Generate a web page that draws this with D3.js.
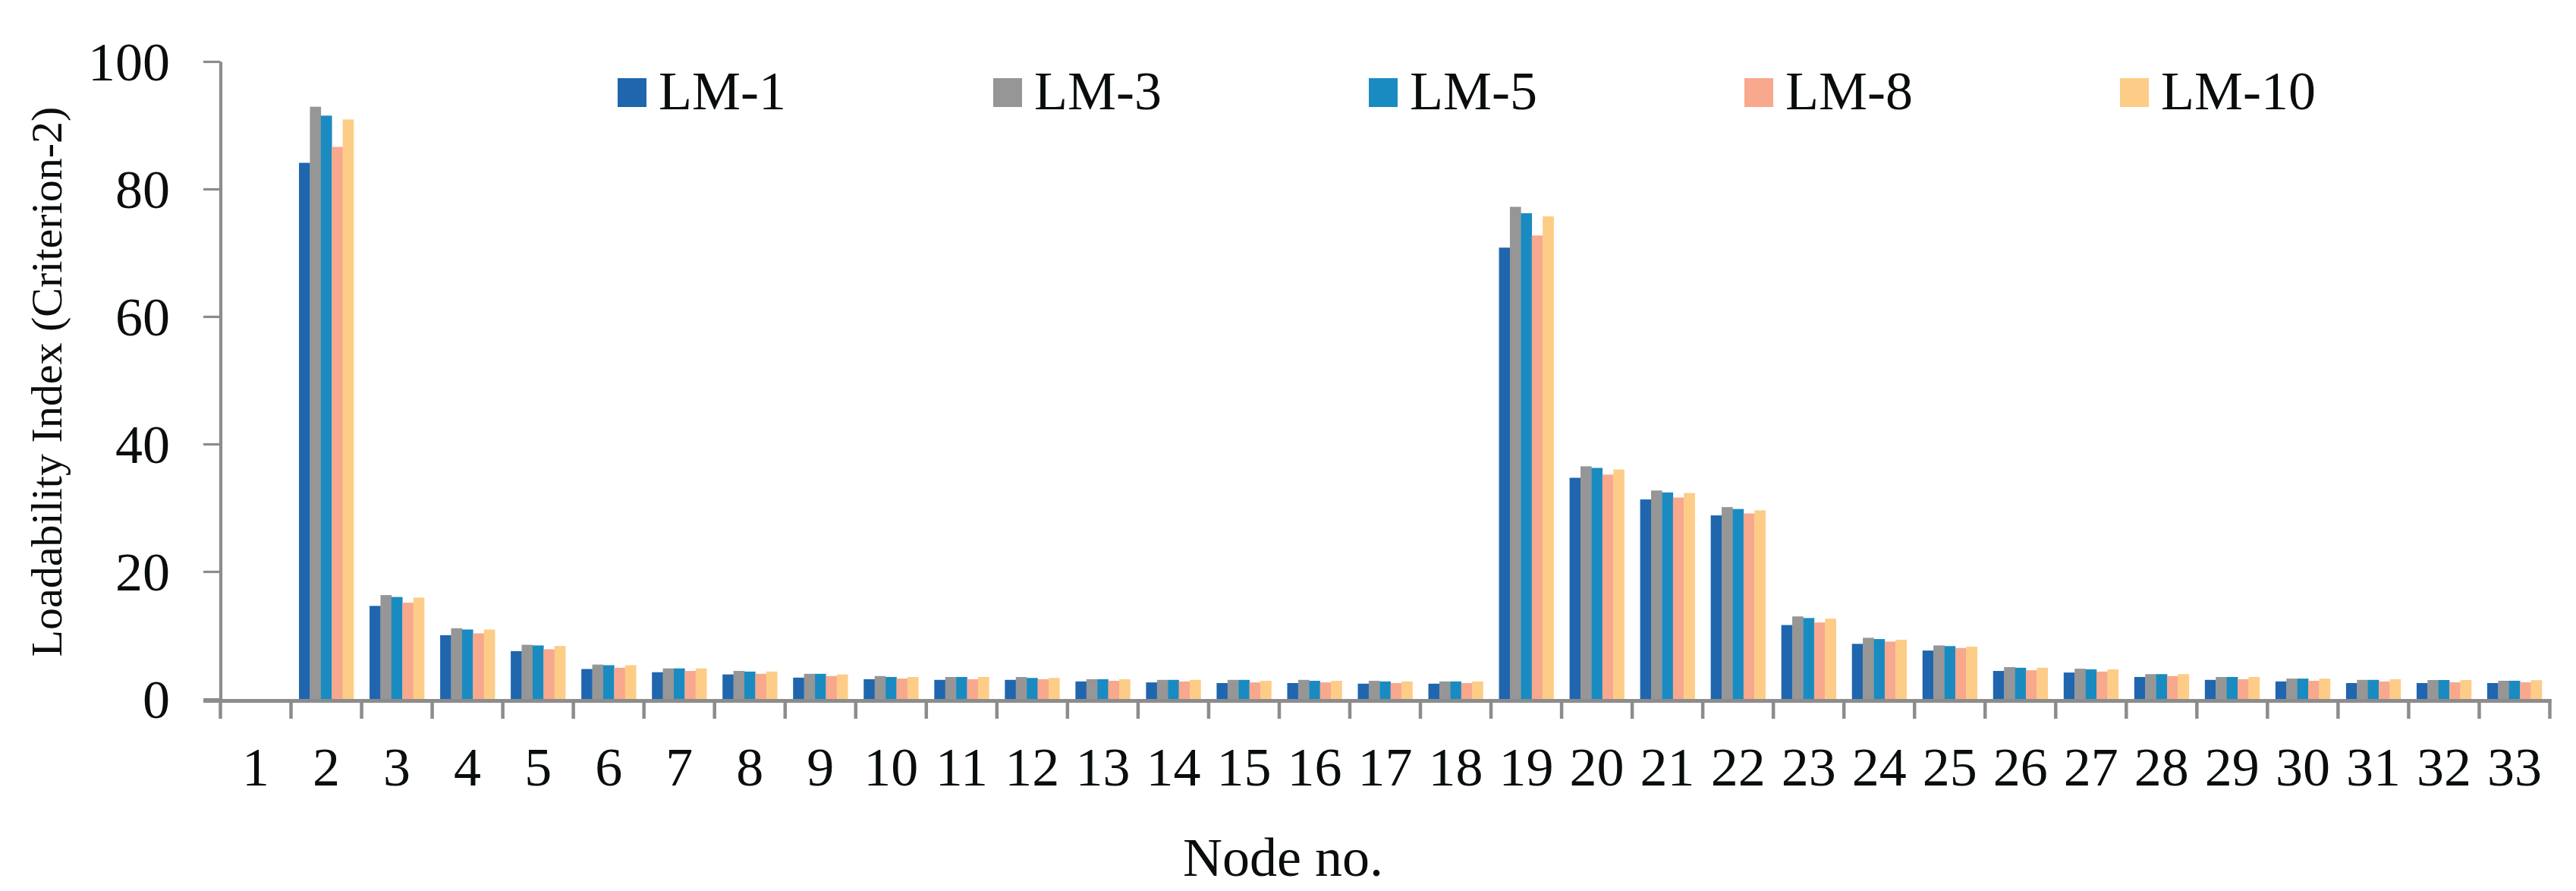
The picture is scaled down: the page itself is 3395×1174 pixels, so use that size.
<!DOCTYPE html>
<html>
<head>
<meta charset="utf-8">
<script src="https://cdn.jsdelivr.net/npm/d3@7"></script>
<style>
  html, body { margin: 0; padding: 0; background: #fff; }
  svg { display: block; }
  text { font-family: "Liberation Serif", "Times New Roman", serif; fill: #0a0d0d; }
</style>
</head>
<body>
<script>
const nodes = d3.range(1, 34).map(String);
const seriesNames = ["LM-1", "LM-3", "LM-5", "LM-8", "LM-10"];
const colors = ["#1f66ae", "#969696", "#1a8bc1", "#f8a88c", "#fdcd87"];

const lm1  = [0, 84.1, 14.6, 10.0, 7.5, 4.7, 4.2, 3.85, 3.35, 3.1, 3.0, 3.0, 2.75, 2.6, 2.5, 2.5, 2.4, 2.4, 70.8, 34.7, 31.3, 28.8, 11.6, 8.65, 7.6, 4.4, 4.15, 3.45, 3.0, 2.75, 2.5, 2.5, 2.5];
const lm3  = [0, 92.9, 16.3, 11.1, 8.5, 5.4, 4.8, 4.4, 3.95, 3.6, 3.45, 3.45, 3.1, 3.0, 3.0, 3.0, 2.85, 2.75, 77.2, 36.5, 32.7, 30.1, 12.95, 9.6, 8.4, 5.0, 4.75, 3.9, 3.45, 3.2, 3.0, 2.98, 2.86];
const lm5  = [0, 91.5, 16.0, 10.9, 8.4, 5.3, 4.8, 4.3, 3.95, 3.45, 3.45, 3.3, 3.1, 3.0, 3.0, 2.85, 2.75, 2.75, 76.2, 36.25, 32.4, 29.8, 12.7, 9.4, 8.3, 4.9, 4.65, 3.9, 3.45, 3.2, 3.0, 2.98, 2.86];
const lm8  = [0, 86.6, 15.1, 10.3, 7.8, 4.9, 4.4, 3.95, 3.6, 3.2, 3.1, 3.1, 2.85, 2.75, 2.6, 2.6, 2.5, 2.5, 72.7, 35.2, 31.6, 29.1, 12.0, 9.0, 8.0, 4.5, 4.3, 3.6, 3.1, 2.85, 2.75, 2.62, 2.62];
const lm10 = [0, 90.9, 15.9, 10.9, 8.3, 5.3, 4.8, 4.3, 3.85, 3.45, 3.45, 3.3, 3.1, 3.0, 2.85, 2.85, 2.75, 2.75, 75.7, 36.0, 32.3, 29.6, 12.6, 9.3, 8.2, 4.9, 4.65, 3.9, 3.45, 3.2, 3.1, 2.98, 2.95];
const seriesValues = [lm1, lm3, lm5, lm8, lm10];
const yTicks = [0, 20, 40, 60, 80, 100];

const W = 3395, H = 1174;
const svg = d3.select("body").append("svg").attr("width", W).attr("height", H);

const x0 = d3.scaleBand().domain(nodes).range([290.5, 3360.5]).padding(0);
const x1 = d3.scaleBand().domain(seriesNames).range([0, x0.bandwidth()]).paddingInner(0).paddingOuter(0.73);
const y = d3.scaleLinear().domain([0, 100]).range([921, 81]);

const axisColor = "#8c8c8c";

// bars
const groups = svg.append("g").selectAll("g")
  .data(nodes)
  .join("g")
  .attr("transform", d => `translate(${x0(d)},0)`);

groups.selectAll("rect")
  .data((d, i) => seriesNames.map((s, k) => ({ s, k, v: seriesValues[k][i] })))
  .join("rect")
  .attr("x", d => x1(d.s))
  .attr("width", x1.bandwidth() + 0.3)
  .attr("y", d => y(d.v))
  .attr("height", d => y(0) - y(d.v))
  .attr("fill", d => colors[d.k]);

// y axis
const yAxis = d3.axisLeft(y).tickValues(yTicks).tickSize(22.5).tickSizeOuter(0).tickPadding(44);
const gy = svg.append("g").attr("transform", "translate(290.5,0)").call(yAxis);
gy.select(".domain").attr("stroke", axisColor).attr("stroke-width", 4.2);
gy.selectAll(".tick line").attr("stroke", axisColor).attr("stroke-width", 3.2);
gy.selectAll(".tick text")
  .attr("font-size", 72)
  .attr("font-family", "Liberation Serif, Times New Roman, serif")
  .attr("fill", "#0a0d0d")
  .attr("dy", "0.34em");

// x axis line
svg.append("line")
  .attr("x1", 268).attr("x2", x0.range()[1] + 2)
  .attr("y1", y(0) + 2.5).attr("y2", y(0) + 2.5)
  .attr("stroke", axisColor).attr("stroke-width", 5);

// category boundary ticks
const bounds = nodes.map(d => x0(d)).concat([x0.range()[1]]);
svg.append("g").selectAll("line")
  .data(bounds)
  .join("line")
  .attr("x1", d => d).attr("x2", d => d)
  .attr("y1", y(0)).attr("y2", 947)
  .attr("stroke", axisColor).attr("stroke-width", 4.5);

// x labels
svg.append("g").selectAll("text")
  .data(nodes)
  .join("text")
  .attr("x", d => x0(d) + x0.bandwidth() / 2)
  .attr("y", 1035)
  .attr("text-anchor", "middle")
  .attr("font-size", 72)
  .text(d => d);

// axis titles
svg.append("text")
  .attr("x", 1691).attr("y", 1154)
  .attr("text-anchor", "middle")
  .attr("font-size", 72)
  .text("Node no.");

svg.append("text")
  .attr("transform", "translate(81,503) rotate(-90)")
  .attr("text-anchor", "middle")
  .attr("font-size", 58)
  .text("Loadability Index (Criterion-2)");

// legend
const legend = svg.append("g").selectAll("g")
  .data(seriesNames)
  .join("g")
  .attr("transform", (d, i) => `translate(${814 + i * 495},0)`);
legend.append("rect")
  .attr("x", 0).attr("y", 103).attr("width", 38).attr("height", 38)
  .attr("fill", (d, i) => colors[i]);
legend.append("text")
  .attr("x", 54).attr("y", 144)
  .attr("font-size", 72)
  .text(d => d);
</script>
</body>
</html>
